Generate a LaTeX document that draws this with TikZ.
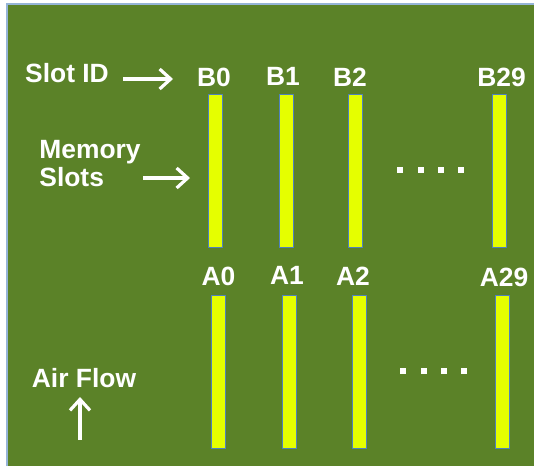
\documentclass[tikz,border=0pt]{standalone}
\usepackage{fontspec}
\setmainfont{Liberation Sans}
\usetikzlibrary{positioning,arrows.meta}
\definecolor{board}{HTML}{5B8228}
\definecolor{slot}{HTML}{E5FF00}
\definecolor{edge}{HTML}{4F81BD}

\begin{document}
\begin{tikzpicture}[
      x=0.5pt, y=-0.5pt,
      font=\fontsize{13.2}{15}\selectfont\bfseries,
      lbl/.style={text=white, inner sep=0pt, anchor=center},
      slotbar/.style={rectangle, draw=edge, line width=0.4pt, fill=slot,
                      minimum width=7pt, minimum height=76.5pt, inner sep=0pt},
      dot/.style={rectangle, fill=white, minimum size=3.2pt, inner sep=0pt},
      pointer/.style={-{Straight Barb[length=5.5pt,width=10pt,line width=1.6pt]},
                      white, line width=1.6pt}
    ]
    \useasboundingbox (0,0) rectangle (534,466);

    % board
    \fill[board] (7,4) rectangle (534,466);
    \draw[edge!60, line width=0.6pt] (7,466) -- (7,4) -- (534,4);

    % slots, B row on top and A row below
    \node[slotbar] (b0)  at (215,171)   {};
    \node[slotbar] (b1)  at (286.5,171) {};
    \node[slotbar] (b2)  at (355,171)   {};
    \node[slotbar] (b29) at (499,171)   {};
    \node[slotbar] (a0)  at (218.5,372) {};
    \node[slotbar] (a1)  at (289.5,372) {};
    \node[slotbar] (a2)  at (359,372)   {};
    \node[slotbar] (a29) at (502.5,372) {};

    \node[lbl] (lb0)  at (214,77.5) {B0};
    \node[lbl] (lb1)  at (283,76.5) {B1};
    \node[lbl] (lb2)  at (350,77.5) {B2};
    \node[lbl] (lb29) at (501.5,77) {B29};
    \node[lbl] (la0)  at (218.5,276.5) {A0};
    \node[lbl] (la1)  at (287,275)  {A1};
    \node[lbl] (la2)  at (353,276)  {A2};
    \node[lbl] (la29) at (504,277)  {A29};

    % gaps between B2 and B29
    \foreach \i/\x in {1/400,2/421,3/441,4/461} {
      \node[dot] (bdot\i) at (\x,170) {};
      \node[dot] (adot\i) at (\x+3,371) {};
    }

    % side labels
    \node[lbl] (slotid) at (67,73) {Slot ID};
    \node[lbl, align=left, anchor=west] (memslots) at (39,164)
      {Memory\\[-1pt]Slots};
    \node[lbl] (airflow) at (84,378) {Air Flow};
    \coordinate (slottip) at (173,79);
    \coordinate (memtip) at (190,178);
    \coordinate (airtail) at (80,440);
    \coordinate (airtip) at (80,397);

    \draw[pointer, shorten <=7pt] (slotid.east |- slottip) -- (slottip);
    \draw[pointer] ([xshift=1pt]memslots.east |- memtip) -- (memtip);
    \draw[pointer] (airtail) -- (airtip);

  \end{tikzpicture}
\end{document}
